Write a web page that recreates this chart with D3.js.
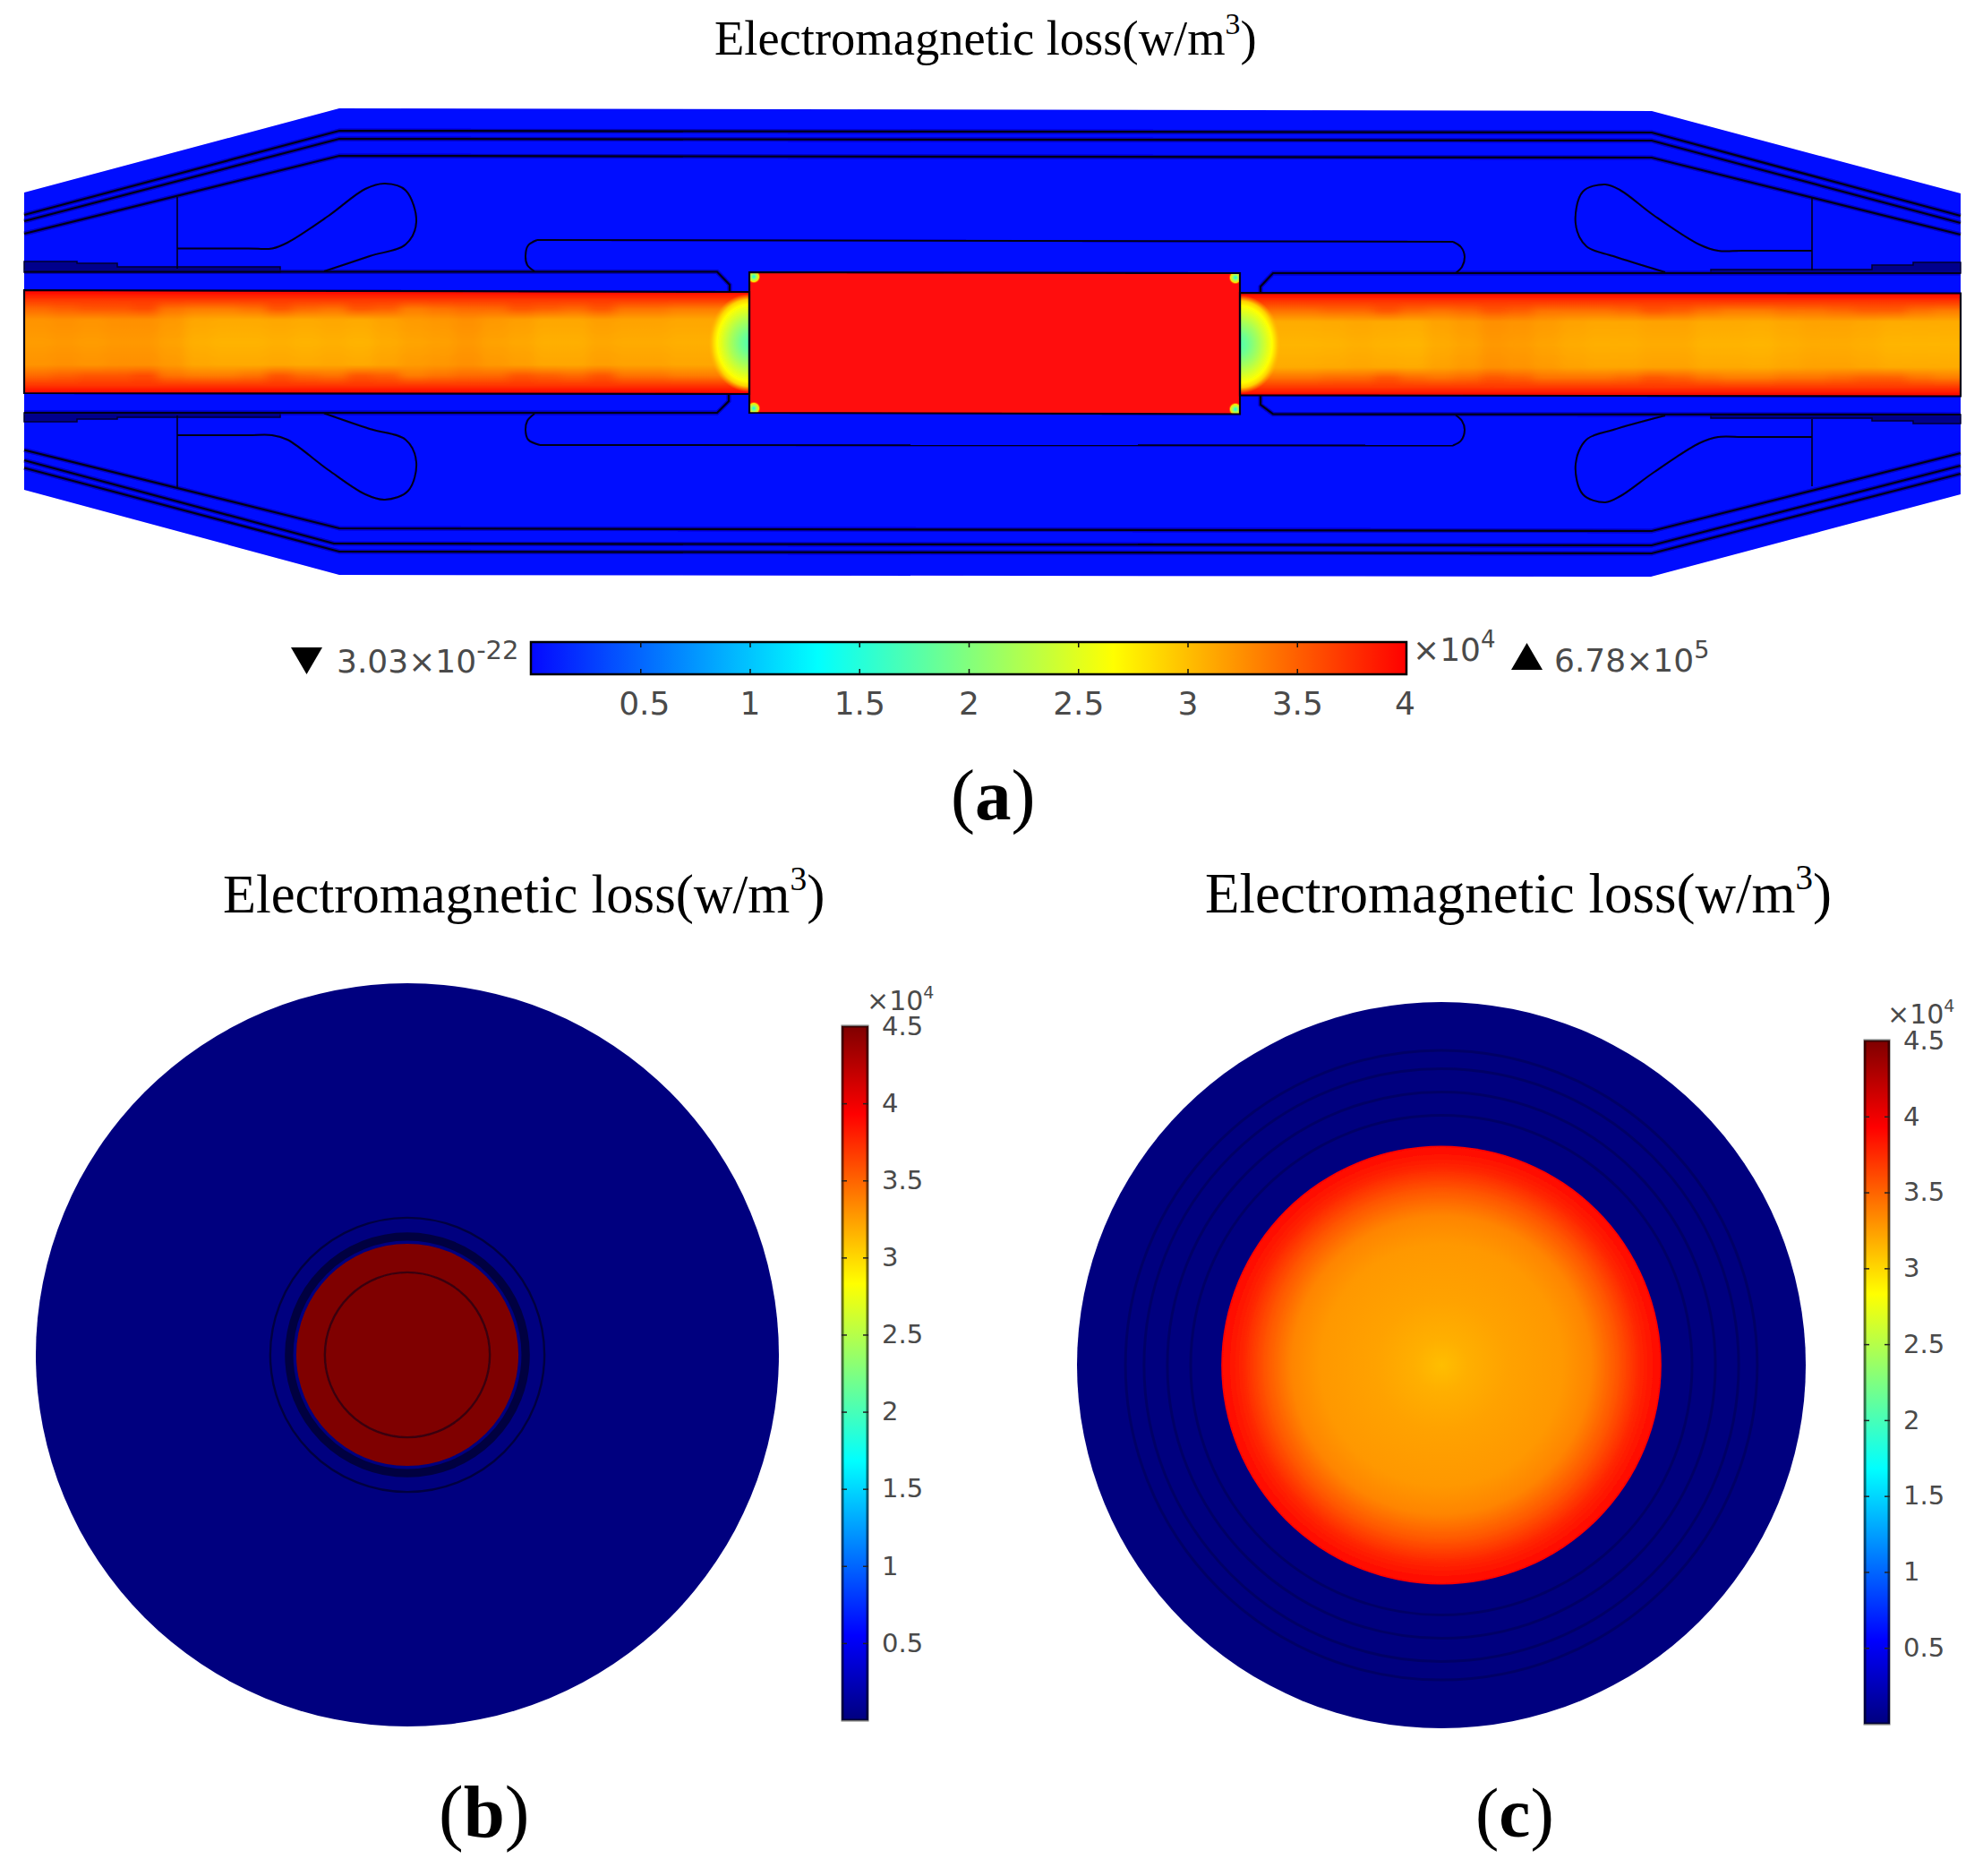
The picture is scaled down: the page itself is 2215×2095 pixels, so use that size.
<!DOCTYPE html>
<html>
<head>
<meta charset="utf-8">
<script src="https://cdn.jsdelivr.net/npm/d3@7"></script>
<style>
  html, body { margin: 0; background: #fff; }
  svg { display: block; }
  .bar-label text { font-family: "DejaVu Sans", sans-serif; fill: #4a4a4a; }
  .serif { font-family: "Liberation Serif", serif; fill: #000; }
  .sans { font-family: "DejaVu Sans", sans-serif; fill: #4a4a4a; }
</style>
</head>
<body>
<svg id="chart" width="2215" height="2095"></svg>
<script>
const titleText = 'Electromagnetic loss(w/m'

// colour maps: value (x10^4 W/m3) -> colour
const rainbowValues = [0, 1.31, 2.66, 4]
const rainbowColors = ['#0508ff', '#00ffff', '#ffff00', '#ff0000']
const jetValues = [0, 0.55, 1.68, 2.83, 3.93, 4.5]
const jetColors = ['#00007f', '#0000ff', '#00ffff', '#ffff00', '#ff0000', '#7f0000']

const ticksA = [0.5, 1, 1.5, 2, 2.5, 3, 3.5, 4]
const ticksBC = [0.5, 1, 1.5, 2, 2.5, 3, 3.5, 4, 4.5]

// joint section (a), in mesh units along / across the joint
const jointOutline = [[0, 94], [352, 0], [1818, 3], [2163, 95], [2163, 431], [1817, 523], [352, 521], [0, 426]]
const shellLines = [
  [[0, 119], [352, 25], [1818, 27], [2163, 120]],
  [[0, 126], [352, 34], [1818, 36], [2163, 128]],
  [[0, 140], [352, 53], [1818, 55], [2163, 141]],
  [[0, 381.5], [352, 469], [1818, 472], [2163, 385]],
  [[0, 393], [346, 486], [1818, 488], [2163, 399]],
  [[0, 401.5], [352, 495], [1818, 497], [2163, 408]]
]
const crossLines = [
  [[171, 99], [171, 179]], [[171, 343], [171, 424]],
  [[1997, 100], [1997, 181]], [[1997, 347], [1997, 422]]
]
const housingLines = [
  [[0, 182.5], [774, 182.5], [788, 197], [788, 204]],
  [[2163, 184], [1395, 184], [1381, 199], [1381, 206]],
  [[0, 340], [774, 340], [787, 327], [787, 318]],
  [[2163, 342], [1395, 341.5], [1381, 331], [1381, 321]]
]
const teardrops = [
  [[171, 156.5], [250, 156.5], [277, 156.5], [294, 150], [340, 120], [381, 90], [403, 84], [426, 91.5], [438, 127], [426, 152], [386, 165], [335, 182]],
  [[171, 365], [250, 365], [277, 365], [294, 370], [340, 404], [381, 431], [403, 437], [429, 427], [438, 395], [426, 370], [386, 358], [335, 340.5]],
  [[1997, 159], [1920, 159], [1892, 159], [1871, 152], [1821, 120], [1783, 91.5], [1766, 85], [1741, 93], [1733, 129], [1745, 154], [1775, 165], [1833, 183]],
  [[1997, 367], [1920, 367], [1892, 367], [1871, 374], [1821, 406], [1783, 433], [1766, 440], [1741, 431], [1733, 397], [1745, 370], [1775, 359], [1833, 343]]
]
// each pill: left cap, straight run, right cap
const pillCaps = [
  [[[570, 182], [562, 175], [560, 165], [563, 153], [573, 147]], [[1596, 149], [1605, 155], [1609, 166], [1606, 177], [1599, 184]]],
  [[[570, 341], [562, 349], [560, 359], [563, 370], [576, 376]], [[1596, 376.5], [1605, 371], [1609, 359], [1606, 349], [1599, 342.5]]]
]
const sheathLayers = [
  [[0, 171], [59, 171], [59, 173], [104, 173], [104, 177], [286, 177], [286, 183], [0, 183]],
  [[0, 340], [286, 340], [286, 345], [104, 345], [104, 347], [59, 347], [59, 350], [0, 350]],
  [[2163, 172], [2110, 172], [2110, 175], [2064, 175], [2064, 180], [1884, 180], [1884, 184], [2163, 184]],
  [[2163, 342], [1884, 342], [1884, 346], [2064, 346], [2064, 349], [2110, 349], [2110, 352], [2163, 352]]
]
const connectorBody = [[810, 183], [1358, 184], [1358, 341.5], [810, 340]]
const cableLeft = [[0, 203], [810, 205], [810, 319], [0, 318]]
const cableRight = [[1358, 206], [2163, 206.5], [2163, 321.5], [1358, 320.5]]
const connectorCorners = [[815, 188], [815, 335], [1353, 189], [1353, 336]]
const cableEnds = [[810, 262], [1358, 263.5]]

// loss read across the conductor, depth from the surface (mesh units)
const cableDepths = [0, 9, 20, 32, 57.5]
const surfaceLoss = 4.05
const skinLoss = 3.72
const leftBlotch = [3.45, 3.5, 3.55, 3.55, 3.6, 3.4, 3.35, 3.35, 3.4, 3.55, 3.45, 3.4, 3.55, 3.5, 3.35, 3.4, 3.45, 3.45, 3.55, 3.5, 3.45, 3.55, 3.4, 3.4, 3.35, 3.35, 3.3]
const leftCore = [3.18, 3.2, 3.18, 3.2, 3.2, 3.15, 3.08, 3.06, 3.06, 3.08, 3.06, 3.08, 3.06, 3.1, 3.14, 3.16, 3.2, 3.15, 3.12, 3.08, 3.08, 3.12, 3.1, 3.1, 3.08, 3.08, 3.08]
const rightBlotch = [3.4, 3.4, 3.4, 3.45, 3.45, 3.55, 3.45, 3.4, 3.45, 3.55, 3.5, 3.4, 3.4, 3.4, 3.45, 3.55, 3.5, 3.4, 3.35, 3.35, 3.4, 3.4, 3.45, 3.5, 3.5, 3.4, 3.35]
const rightCore = [3.06, 3.05, 3.05, 3.06, 3.08, 3.06, 3.05, 3.1, 3.14, 3.2, 3.18, 3.14, 3.1, 3.08, 3.08, 3.1, 3.1, 3.06, 3.06, 3.05, 3.08, 3.1, 3.1, 3.08, 3.05, 3.05, 3.05]
const endStops = [0, 0.2, 0.45, 0.78, 0.88, 1]
const endLoss = [1.75, 1.9, 2.2, 2.66, 2.9, 3.08]
const cornerStops = [0, 0.4, 0.7, 1]
const cornerLoss = [1.4, 2.2, 2.8, 4]

// cross sections (b) and (c), radii as a share of the outer radius
const ringsB = [0.369, 0.31, 0.222]
const darkBandB = 0.32
const coreB = 0.299
const ringsC = [0.867, 0.816, 0.752, 0.688]
const coreC = 0.604
const coreStopsC = [0, 0.12, 0.3, 0.55, 0.68, 0.8, 0.9, 1]
const coreLossC = [3.0, 3.08, 3.15, 3.2, 3.3, 3.55, 3.8, 3.98]

const svg = d3.select('#chart')
const defs = svg.append('defs')

const rainbow = d3.scaleLinear().domain(rainbowValues).range(rainbowColors)
const jet = d3.scaleLinear().domain(jetValues).range(jetColors)

const xA = d3.scaleLinear().domain([0, 2163]).range([27, 2190])
const yA = d3.scaleLinear().domain([0, 523]).range([121, 644])
const path = d3.line().x(d => xA(d[0])).y(d => yA(d[1]))
const smooth = d3.line().x(d => xA(d[0])).y(d => yA(d[1])).curve(d3.curveCatmullRom.alpha(0.5))

defs.append('filter').attr('id', 'soft')
  .append('feGaussianBlur').attr('stdDeviation', 0.7)
defs.append('filter').attr('id', 'smear')
  .attr('x', '-5%').attr('width', '110%')
  .append('feGaussianBlur').attr('stdDeviation', '6 0')

function stopsGradient(id, tag, stops, color, fade) {
  const g = defs.append(tag).attr('id', id)
  g.selectAll('stop').data(stops).join('stop')
    .attr('offset', d => d)
    .attr('stop-color', (d, i) => color(i))
    .attr('stop-opacity', (d, i) => (fade && i === stops.length - 1) ? 0 : 1)
  return g
}

function drawCable(g, band, blotch, core, name) {
  const x0 = band[0][0], x1 = band[1][0]
  const cols = d3.scaleBand().domain(d3.range(core.length)).range([x0, x1])
  const top = (band[0][1] + band[1][1]) / 2
  const bottom = (band[2][1] + band[3][1]) / 2
  const half = (bottom - top) / 2

  defs.append('clipPath').attr('id', name + '-clip')
    .append('path').attr('d', path(band) + 'Z')

  const clipped = g.append('g').attr('clip-path', `url(#${name}-clip)`)
  clipped.append('path').attr('d', path(band) + 'Z').attr('fill', rainbow(3.1))
  const cells = clipped.append('g').attr('filter', 'url(#smear)')

  core.forEach((c, i) => {
    const values = [surfaceLoss, skinLoss, blotch[i], c + 0.05, c, c + 0.05, blotch[i], skinLoss, surfaceLoss]
    const offsets = cableDepths.map(d => d / half / 2)
      .concat(cableDepths.slice(0, -1).reverse().map(d => 1 - d / half / 2))
    const grad = defs.append('linearGradient').attr('id', `${name}-${i}`)
      .attr('x1', 0).attr('x2', 0).attr('y1', 0).attr('y2', 1)
    grad.selectAll('stop').data(offsets).join('stop')
      .attr('offset', d => d)
      .attr('stop-color', (d, j) => rainbow(values[j]))
    // first and last column run past the clip so the smear has no soft end
    const left = i === 0 ? xA(cols(i)) - 40 : xA(cols(i))
    const right = i === core.length - 1 ? xA(cols(i) + cols.bandwidth()) + 40 : xA(cols(i) + cols.bandwidth())
    cells.append('rect')
      .attr('x', left).attr('width', right - left + 0.5)
      .attr('y', yA(top)).attr('height', yA(bottom) - yA(top))
      .attr('fill', `url(#${name}-${i})`)
  })
  return clipped
}

function drawJoint() {
  const g = svg.append('g').attr('filter', 'url(#soft)')
  g.append('path').attr('d', path(jointOutline) + 'Z').attr('fill', rainbow(0))

  g.selectAll('.layer').data(sheathLayers).join('path').attr('class', 'layer')
    .attr('d', d => path(d) + 'Z').attr('fill', '#00008c').attr('stroke', '#000030').attr('stroke-width', 1.5)

  const left = drawCable(g, cableLeft, leftBlotch, leftCore, 'cableL')
  const right = drawCable(g, cableRight, rightBlotch, rightCore, 'cableR')

  stopsGradient('end-grad', 'radialGradient', endStops, i => rainbow(endLoss[i]), true)
  left.append('ellipse')
    .attr('cx', xA(cableEnds[0][0])).attr('cy', yA(cableEnds[0][1]))
    .attr('rx', 46).attr('ry', 55).attr('fill', 'url(#end-grad)')
  right.append('ellipse')
    .attr('cx', xA(cableEnds[1][0])).attr('cy', yA(cableEnds[1][1]))
    .attr('rx', 46).attr('ry', 55).attr('fill', 'url(#end-grad)')

  defs.append('clipPath').attr('id', 'body-clip')
    .append('path').attr('d', path(connectorBody) + 'Z')
  g.append('path').attr('d', path(connectorBody) + 'Z').attr('fill', '#ff0a0a')
  stopsGradient('corner-grad', 'radialGradient', cornerStops, i => rainbow(cornerLoss[i]), true)
  g.append('g').attr('clip-path', 'url(#body-clip)')
    .selectAll('.corner').data(connectorCorners).join('circle').attr('class', 'corner')
    .attr('cx', d => xA(d[0])).attr('cy', d => yA(d[1])).attr('r', 8)
    .attr('fill', 'url(#corner-grad)')

  // soft navy halo the mesh lines have in the original render
  g.selectAll('.halo').data(shellLines.concat(housingLines)).join('path').attr('class', 'halo')
    .attr('d', path).attr('fill', 'none').attr('stroke', '#000090').attr('stroke-width', 5).attr('opacity', 0.55)

  const lines = g.append('g').attr('fill', 'none').attr('stroke', '#000018')
  lines.selectAll('.shell').data(shellLines).join('path').attr('class', 'shell')
    .attr('d', path).attr('stroke-width', 2.2)
  lines.selectAll('.housing').data(housingLines).join('path').attr('class', 'housing')
    .attr('d', path).attr('stroke-width', 2.2)
  lines.selectAll('.cross').data(crossLines).join('path').attr('class', 'cross')
    .attr('d', path).attr('stroke-width', 1.6)
  lines.selectAll('.tear').data(teardrops).join('path').attr('class', 'tear')
    .attr('d', smooth).attr('stroke-width', 2)
  // caps are curved, the run between them is a plain straight line
  pillCaps.forEach(caps => {
    lines.append('path').attr('d', smooth(caps[0])).attr('stroke-width', 2)
    lines.append('path').attr('d', smooth(caps[1])).attr('stroke-width', 2)
    lines.append('path').attr('d', path([caps[0][4], caps[1][0]])).attr('stroke-width', 2)
  })
  lines.selectAll('.edge').data([connectorBody, cableLeft, cableRight]).join('path').attr('class', 'edge')
    .attr('d', d => path(d) + 'Z').attr('stroke-width', 2.2)
}

function drawCrossB() {
  const r = d3.scaleLinear().domain([0, 1]).range([0, 415])
  const g = svg.append('g').attr('transform', 'translate(455,1513)').attr('filter', 'url(#soft)')
  g.append('circle').attr('r', r(1)).attr('fill', jet(0))
  g.append('circle').attr('r', r(darkBandB)).attr('fill', 'none')
    .attr('stroke', '#000040').attr('stroke-width', 8)
  g.append('circle').attr('r', r(coreB)).attr('fill', jet(4.5))
  g.selectAll('.ring').data(ringsB).join('circle').attr('class', 'ring')
    .attr('r', d => r(d)).attr('fill', 'none')
    .attr('stroke', (d, i) => i === 2 ? '#3a0010' : '#000040').attr('stroke-width', 2.4)
}

function drawCrossC() {
  const rx = d3.scaleLinear().domain([0, 1]).range([0, 407])
  const ry = d3.scaleLinear().domain([0, 1]).range([0, 405.5])
  const g = svg.append('g').attr('transform', 'translate(1610,1524.5)').attr('filter', 'url(#soft)')
  g.append('ellipse').attr('rx', rx(1)).attr('ry', ry(1)).attr('fill', '#00037f')
  g.selectAll('.ring').data(ringsC).join('ellipse').attr('class', 'ring')
    .attr('rx', d => rx(d)).attr('ry', d => ry(d)).attr('fill', 'none')
    .attr('stroke', '#000060').attr('stroke-width', 3).attr('stroke-opacity', 0.8)
  stopsGradient('core-c', 'radialGradient', coreStopsC, i => rainbow(coreLossC[i]), false)
  g.append('ellipse').attr('rx', rx(coreC)).attr('ry', ry(coreC)).attr('fill', 'url(#core-c)')
}

function verticalBar(id, x, width, top, bottom, labelSize) {
  const y = d3.scaleLinear().domain([0, 4.5]).range([bottom, top])
  const grad = defs.append('linearGradient').attr('id', id)
    .attr('x1', 0).attr('x2', 0).attr('y1', 1).attr('y2', 0)
  grad.selectAll('stop').data(jetValues).join('stop')
    .attr('offset', d => d / 4.5).attr('stop-color', d => jet(d))

  const g = svg.append('g')
  g.append('rect').attr('x', x).attr('y', top).attr('width', width).attr('height', bottom - top)
    .attr('fill', `url(#${id})`)
  g.append('rect').attr('x', x + 1).attr('y', top).attr('width', width - 2).attr('height', bottom - top)
    .attr('fill', 'none').attr('stroke', '#000').attr('stroke-opacity', 0.55).attr('stroke-width', 3)

  const marks = g.append('g').attr('transform', `translate(${x},0)`)
    .call(d3.axisLeft(y).tickValues(ticksBC.slice(0, -1)).tickSize(-6).tickSizeOuter(0))
  const marksR = g.append('g').attr('transform', `translate(${x + width},0)`)
    .call(d3.axisRight(y).tickValues(ticksBC.slice(0, -1)).tickSize(-6).tickSizeOuter(0))
  for (const m of [marks, marksR]) {
    m.select('.domain').remove()
    m.selectAll('text').remove()
    m.selectAll('line').attr('stroke', '#222').attr('stroke-width', 1.5)
  }

  const labels = g.append('g').attr('class', 'bar-label').attr('transform', `translate(${x + width},0)`)
    .call(d3.axisRight(y).tickValues(ticksBC).tickSize(0).tickPadding(15).tickFormat(d3.format('~g')))
  labels.select('.domain').remove()
  labels.selectAll('text').attr('font-size', labelSize)
}

function drawBarA() {
  const x = d3.scaleLinear().domain([0, 4]).range([593, 1571])
  const grad = defs.append('linearGradient').attr('id', 'bar-a')
  grad.selectAll('stop').data(rainbowValues).join('stop')
    .attr('offset', d => d / 4).attr('stop-color', d => rainbow(d))

  const g = svg.append('g')
  g.append('rect').attr('x', 593).attr('y', 717).attr('width', 978).attr('height', 36)
    .attr('fill', 'url(#bar-a)').attr('stroke', '#000').attr('stroke-width', 2.5)

  const up = g.append('g').attr('transform', 'translate(0,753)')
    .call(d3.axisBottom(x).tickValues(ticksA.slice(0, -1)).tickSize(-6).tickSizeOuter(0))
  const down = g.append('g').attr('transform', 'translate(0,717)')
    .call(d3.axisTop(x).tickValues(ticksA.slice(0, -1)).tickSize(-6).tickSizeOuter(0))
  for (const m of [up, down]) {
    m.select('.domain').remove()
    m.selectAll('text').remove()
  }
  g.selectAll('line').attr('stroke', '#111').attr('stroke-width', 1.5)

  const labels = g.append('g').attr('class', 'bar-label').attr('transform', 'translate(0,753)')
    .call(d3.axisBottom(x).tickValues(ticksA).tickSize(0).tickPadding(19).tickFormat(d3.format('~g')))
  labels.select('.domain').remove()
  labels.selectAll('text').attr('font-size', 36)
  labels.selectAll('text').filter(d => d === 4).attr('dx', -2)
  labels.selectAll('text').filter(d => d === 0.5).attr('dx', 4)
}

function superText(x, y, base, sup, size, supSize, cls) {
  const t = svg.append('text').attr('class', cls).attr('x', x).attr('y', y).attr('font-size', size)
  t.append('tspan').text(base)
  t.append('tspan').attr('font-size', supSize).attr('dy', -size * 0.42).text(sup)
  return t
}

function drawTitle(x, y, size) {
  const t = superText(x, y, titleText, '3', size, size * 0.62, 'serif')
  t.append('tspan').attr('font-size', size).attr('dy', size * 0.42).text(')')
}

function panelLabel(x, y, letter, size) {
  const t = svg.append('text').attr('class', 'serif').attr('x', x).attr('y', y).attr('font-size', size)
  t.append('tspan').text('(')
  t.append('tspan').attr('font-weight', 'bold').text(letter)
  t.append('tspan').text(')')
}

drawTitle(798, 61, 54.5)
drawJoint()
drawBarA()
svg.append('path').attr('d', 'M325,723 H360 L342.5,753 Z').attr('fill', '#000')
svg.append('path').attr('d', 'M1688,748 H1723 L1705.5,718 Z').attr('fill', '#000')
superText(376, 751, '3.03×10', '-22', 36, 29, 'sans')
superText(1578, 738, '×10', '4', 36, 26, 'sans')
superText(1736, 750, '6.78×10', '5', 36, 27, 'sans')
panelLabel(1062, 915, 'a', 81)

drawTitle(249, 1019, 60.5)
drawCrossB()
verticalBar('bar-b', 940, 30, 1146, 1921, 29)
superText(968, 1128, '×10', '4', 30, 19, 'sans')
panelLabel(490, 2051, 'b', 83)

drawTitle(1346, 1019, 63)
drawCrossC()
verticalBar('bar-c', 2082, 29, 1162, 1925, 29)
superText(2108, 1143, '×10', '4', 30, 19, 'sans')
panelLabel(1648, 2051, 'c', 79)
</script>
</body>
</html>
